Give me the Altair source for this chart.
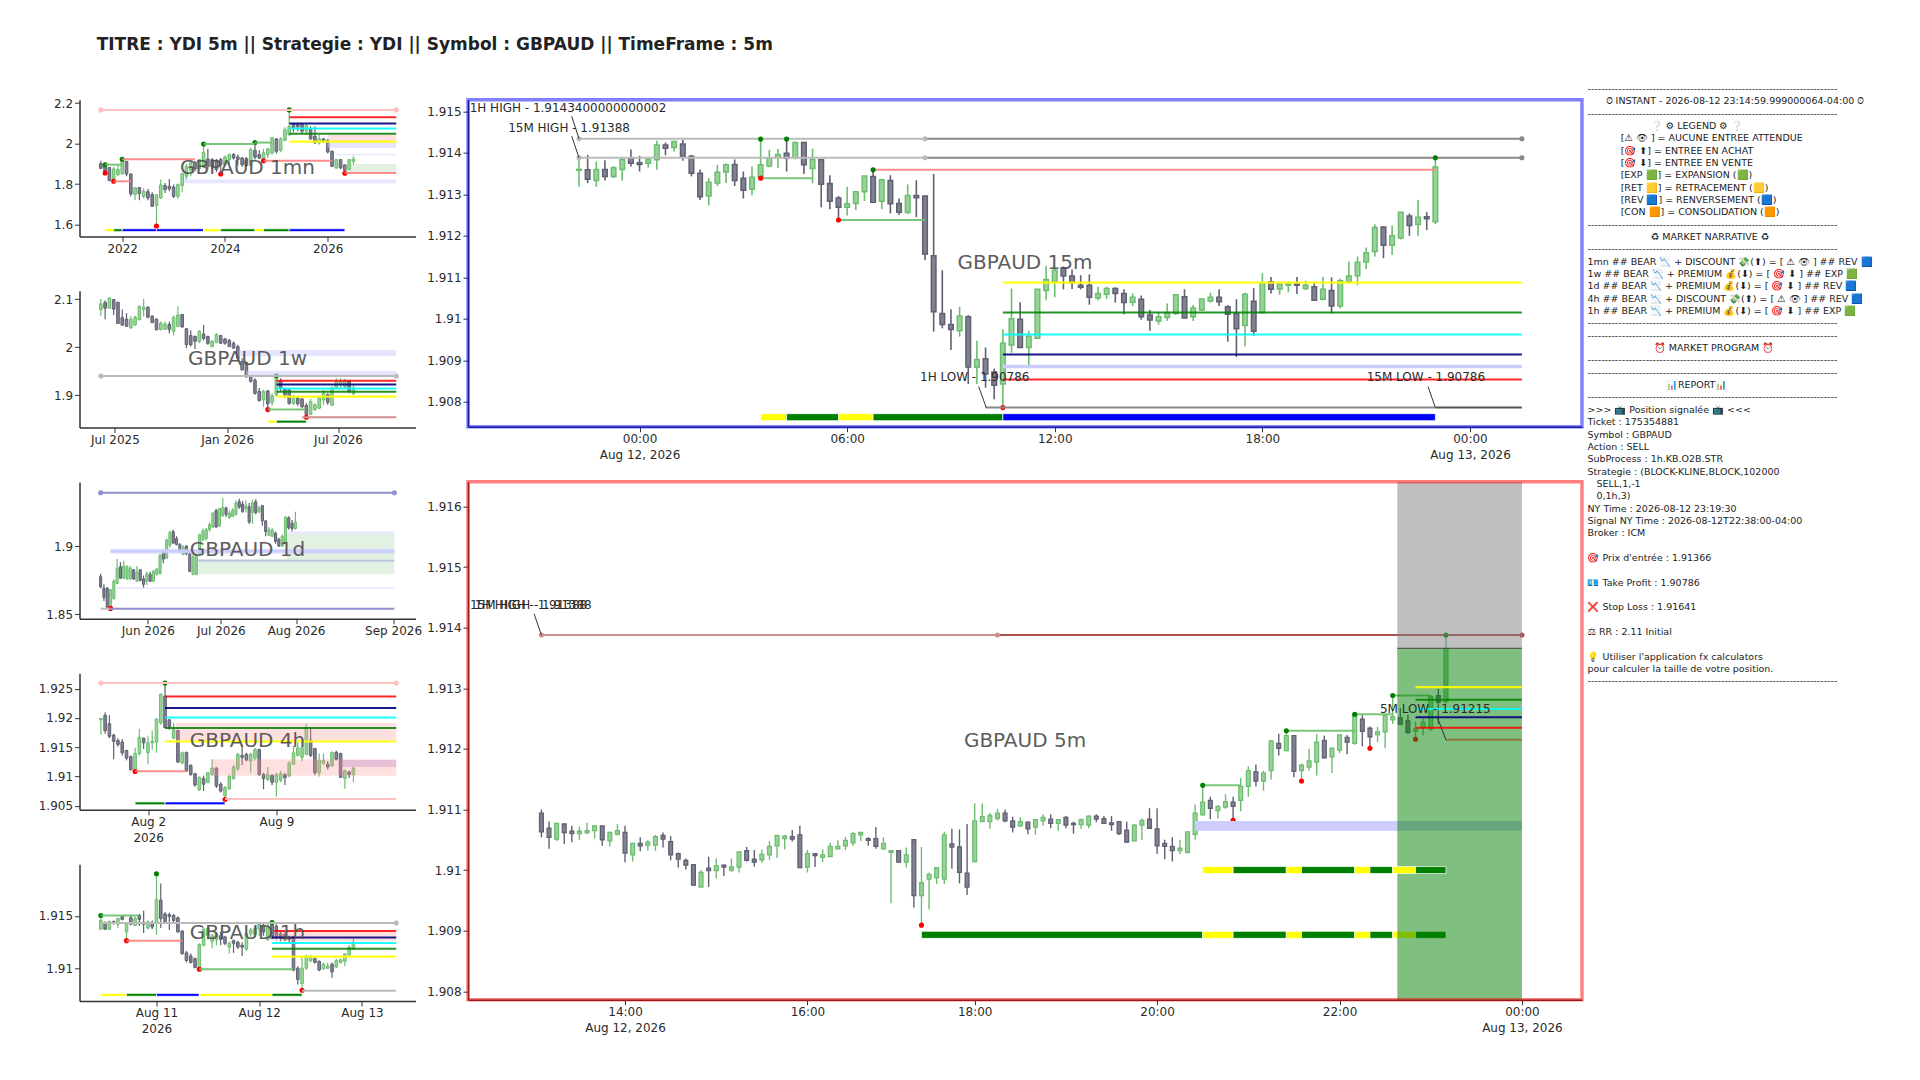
import altair as alt
import pandas as pd

# ---------- candles: (high, body top, body bottom, low) ; G = up, D = down ----------
M1_DIR = "DDDGGGDDGD" "GDDGGDDDGG" "GGDGGDDDDG" "GDDDDGDDGG" "GDGGGDDDGD" "DGDDDGDDGG"
M1 = [(1.916,1.901,1.878,1.875),(1.908,1.896,1.864,1.855),(1.885,1.882,1.818,1.814),(1.885,1.875,1.823,1.814),(1.892,1.872,1.847,1.839),
(1.923,1.913,1.852,1.847),(1.916,1.911,1.850,1.839),(1.852,1.850,1.752,1.740),(1.786,1.783,1.749,1.721),(1.786,1.783,1.754,1.721),
(1.780,1.765,1.740,1.729),(1.777,1.763,1.732,1.721),(1.760,1.749,1.691,1.688),(1.749,1.747,1.694,1.593),(1.823,1.796,1.732,1.727),
(1.806,1.793,1.773,1.757),(1.826,1.790,1.777,1.765),(1.798,1.786,1.740,1.732),(1.803,1.798,1.740,1.727),(1.855,1.852,1.793,1.760),
(1.901,1.888,1.839,1.823),(1.908,1.905,1.869,1.839),(1.913,1.908,1.875,1.864),(1.921,1.921,1.875,1.869),(1.995,1.957,1.885,1.878),
(1.974,1.924,1.888,1.875),(1.929,1.921,1.885,1.872),(1.924,1.918,1.872,1.860),(1.929,1.921,1.896,1.850),(1.941,1.934,1.896,1.885),
(1.951,1.946,1.921,1.896),(1.954,1.946,1.929,1.921),(1.946,1.934,1.921,1.892),(1.934,1.929,1.896,1.885),(1.934,1.926,1.892,1.885),
(1.979,1.970,1.892,1.888),(2.003,1.967,1.934,1.921),(1.967,1.946,1.929,1.924),(1.974,1.954,1.924,1.915),(1.979,1.974,1.946,1.929),
(2.033,2.028,1.954,1.946),(2.028,2.023,1.962,1.951),(2.033,2.023,1.967,1.957),(2.081,2.069,2.016,2.012),(2.166,2.085,2.044,2.036),
(2.102,2.099,2.077,2.056),(2.102,2.094,2.082,2.061),(2.102,2.094,2.061,2.049),(2.102,2.089,2.061,2.044),(2.085,2.069,2.023,2.020),
(2.085,2.036,2.003,2.0),(2.044,2.023,2.003,1.995),(2.028,2.023,2.012,2.003),(2.023,2.016,1.959,1.951),(1.966,1.962,1.888,1.885),
(1.924,1.921,1.880,1.875),(1.924,1.921,1.880,1.875),(1.896,1.895,1.869,1.854),(1.924,1.921,1.872,1.869),(1.938,1.924,1.913,1.896)]

W1_DIR = "GDGDDDDGGG" "GDDDGGDGGD" "DDDGDDGGDD" "DDDDDDDDGD" "GGDDDGDDDG" "GGGDGGGGDG"
W1 = [(2.100,2.090,2.078,2.065),(2.097,2.093,2.081,2.058),(2.103,2.102,2.081,2.081),(2.100,2.099,2.079,2.067),(2.095,2.093,2.049,2.048),
(2.078,2.061,2.046,2.044),(2.071,2.058,2.043,2.042),(2.064,2.058,2.040,2.038),(2.065,2.062,2.046,2.044),(2.086,2.085,2.057,2.056),
(2.100,2.083,2.078,2.064),(2.085,2.083,2.062,2.060),(2.067,2.064,2.051,2.050),(2.060,2.058,2.036,2.035),(2.053,2.050,2.036,2.035),
(2.053,2.048,2.037,2.036),(2.053,2.047,2.037,2.029),(2.065,2.062,2.033,2.024),(2.085,2.067,2.043,2.042),(2.069,2.068,2.042,2.040),
(2.040,2.038,2.005,1.998),(2.035,2.024,2.005,2.001),(2.024,2.022,2.012,1.996),(2.035,2.033,2.012,2.008),(2.046,2.027,2.018,2.014),
(2.024,2.022,2.008,2.005),(2.015,2.012,2.001,2.000),(2.029,2.026,2.010,2.008),(2.025,2.024,2.008,2.007),(2.019,2.017,2.008,2.005),
(2.017,2.014,2.001,2.000),(2.012,2.008,1.998,1.996),(2.005,2.001,1.977,1.970),(1.977,1.970,1.953,1.951),(1.970,1.968,1.938,1.937),
(1.940,1.938,1.929,1.926),(1.935,1.931,1.904,1.901),(1.915,1.908,1.889,1.887),(1.911,1.908,1.890,1.876),(1.911,1.909,1.882,1.870),
(1.904,1.899,1.885,1.878),(1.940,1.932,1.901,1.897),(1.935,1.929,1.915,1.908),(1.915,1.913,1.901,1.894),(1.915,1.911,1.883,1.880),
(1.901,1.897,1.883,1.880),(1.897,1.894,1.882,1.878),(1.894,1.892,1.876,1.873),(1.883,1.879,1.860,1.854),(1.892,1.887,1.860,1.859),
(1.883,1.880,1.870,1.867),(1.897,1.894,1.873,1.871),(1.911,1.904,1.890,1.880),(1.904,1.901,1.885,1.880),(1.918,1.915,1.879,1.878),
(1.935,1.929,1.915,1.913),(1.935,1.929,1.922,1.915),(1.934,1.930,1.918,1.915),(1.931,1.930,1.908,1.904),(1.922,1.915,1.903,1.900)]

D1_DIR = "DDDGGGDGGG" "DGDDGDGGGD" "GGDDDGDDGG" "GGGGGDGGDG" "GGDDGDGDGD" "DGGDDGGDDG"
D1 = [(1.8799,1.8777,1.8701,1.8692),(1.8720,1.8692,1.8624,1.8596),(1.8701,1.8692,1.8551,1.8545),(1.8686,1.8681,1.8551,1.8542),(1.8757,1.8743,1.8616,1.8607),
(1.8907,1.8839,1.8726,1.8720),(1.8884,1.8850,1.8766,1.8760),(1.8895,1.8856,1.8766,1.8760),(1.8862,1.8850,1.8760,1.8754),(1.8856,1.8839,1.8760,1.8754),
(1.8833,1.8828,1.8760,1.8754),(1.8856,1.8811,1.8743,1.8737),(1.8833,1.8828,1.8749,1.8743),(1.8785,1.8760,1.8720,1.8692),(1.8814,1.8799,1.8743,1.8715),
(1.8814,1.8794,1.8743,1.8737),(1.8828,1.8816,1.8743,1.8737),(1.8842,1.8833,1.8794,1.8785),(1.8946,1.8935,1.8799,1.8794),(1.8975,1.8963,1.8907,1.8876),
(1.9059,1.9048,1.8912,1.8907),(1.9116,1.9105,1.9008,1.8992),(1.9124,1.9110,1.9025,1.9020),(1.9076,1.9059,1.9014,1.9008),(1.9025,1.9014,1.8963,1.8955),
(1.9011,1.8997,1.8941,1.8935),(1.9011,1.9003,1.8946,1.8935),(1.8963,1.8946,1.8816,1.8811),(1.8941,1.8924,1.8794,1.8788),(1.8941,1.8924,1.8794,1.8788),
(1.9096,1.9088,1.8946,1.8935),(1.9133,1.9116,1.9048,1.9040),(1.9138,1.9124,1.9059,1.9042),(1.9178,1.9161,1.9124,1.9110),(1.9257,1.9246,1.9144,1.9138),
(1.9280,1.9266,1.9144,1.9138),(1.9285,1.9280,1.9153,1.9144),(1.9359,1.9288,1.9229,1.9218),(1.9294,1.9285,1.9237,1.9218),(1.9266,1.9246,1.9212,1.9206),
(1.9285,1.9268,1.9223,1.9218),(1.9342,1.9322,1.9237,1.9229),(1.9353,1.9331,1.9291,1.9280),(1.9336,1.9314,1.9257,1.9251),(1.9342,1.9302,1.9280,1.9251),
(1.9322,1.9294,1.9181,1.9167),(1.9347,1.9322,1.9251,1.9167),(1.9350,1.9331,1.9251,1.9237),(1.9302,1.9285,1.9257,1.9246),(1.9308,1.9302,1.9189,1.9153),
(1.9195,1.9189,1.9110,1.9076),(1.9144,1.9124,1.9082,1.9076),(1.9138,1.9121,1.9076,1.9068),(1.9110,1.9099,1.9037,1.9020),(1.9065,1.9054,1.9003,1.8997),
(1.9088,1.9076,1.9003,1.8997),(1.9223,1.9218,1.9025,1.9020),(1.9223,1.9212,1.9138,1.9124),(1.9195,1.9172,1.9133,1.9110),(1.9257,1.9181,1.9133,1.9124)]

H4_DIR = "GDDDDDDDGG" "DGGGGDDGDG" "DDDGDGGDDG" "GGGDDGGDDG" "DGGDGGGGGD" "DGGDGDDGDG"
H4 = [(1.92,1.91993,1.91967,1.91719),(1.92092,1.92046,1.91784,1.91732),(1.92046,1.91902,1.91686,1.91654),(1.91732,1.91706,1.91601,1.91294),(1.91654,1.91614,1.91549,1.91510),
(1.91641,1.91588,1.91405,1.91359),(1.91458,1.91444,1.91314,1.91275),(1.91359,1.91340,1.91118,1.91098),(1.91490,1.91392,1.91098,1.91085),(1.91817,1.91667,1.91392,1.91359),
(1.91667,1.91654,1.91575,1.91471),(1.91686,1.91575,1.91405,1.91209),(1.91784,1.91601,1.91575,1.91458),(1.91993,1.91980,1.91588,1.91405),(1.92418,1.92405,1.91915,1.91882),
(1.92614,1.92373,1.91837,1.91824),(1.91980,1.91967,1.91850,1.91797),(1.91915,1.91797,1.91654,1.91641),(1.91797,1.91784,1.91248,1.91229),(1.91425,1.91405,1.91229,1.91209),
(1.91425,1.91412,1.91098,1.91078),(1.91209,1.91190,1.91033,1.91013),(1.91065,1.91046,1.90856,1.90824),(1.91000,1.90987,1.90771,1.90752),(1.91013,1.90967,1.90869,1.90752),
(1.91078,1.91065,1.90902,1.90882),(1.91294,1.91144,1.91033,1.91013),(1.91157,1.91144,1.90837,1.90804),(1.90902,1.90869,1.90752,1.90725),(1.90837,1.90810,1.90673,1.90608),
(1.91033,1.91000,1.90791,1.90771),(1.91196,1.91163,1.90967,1.90948),(1.91405,1.91379,1.91131,1.91098),(1.91536,1.91359,1.91327,1.91196),(1.91405,1.91379,1.91281,1.91261),
(1.91405,1.91379,1.91261,1.91065),(1.91490,1.91458,1.91314,1.91275),(1.91471,1.91464,1.91033,1.91013),(1.91065,1.91033,1.90967,1.90784),(1.91163,1.91033,1.90948,1.90922),
(1.91033,1.91020,1.90902,1.90856),(1.91065,1.91033,1.90902,1.90660),(1.91098,1.91052,1.90935,1.90902),(1.91065,1.91033,1.90980,1.90856),(1.91261,1.91229,1.91013,1.90987),
(1.91523,1.91405,1.91209,1.91196),(1.91588,1.91490,1.91359,1.91340),(1.91654,1.91490,1.91327,1.91261),(1.91902,1.91837,1.91379,1.91359),(1.91837,1.91621,1.91359,1.91327),
(1.91490,1.91477,1.91065,1.91020),(1.91392,1.91275,1.91065,1.91000),(1.91392,1.91275,1.91229,1.91196),(1.91261,1.91209,1.91163,1.91118),(1.91425,1.91412,1.91183,1.91163),
(1.91438,1.91412,1.91294,1.91275),(1.91405,1.91392,1.90987,1.90974),(1.91118,1.91098,1.90967,1.90791),(1.91098,1.91078,1.91033,1.90974),(1.91163,1.91144,1.91033,1.90902)]

H1_DIR = "GDGDGDGDGD" "DGDGDDDDDD" "DDDGGGGGDD" "GDDDGGGGDG" "DDDDDDDGGG" "DDGGDGGGGG"
H1 = [(1.91504,1.91456,1.91372,1.91372),(1.91445,1.91438,1.91372,1.91365),(1.91456,1.91445,1.91372,1.91365),(1.91456,1.91445,1.91431,1.91416),(1.91482,1.91475,1.9142,1.91383),
(1.91504,1.91493,1.91467,1.91456),(1.91438,1.9142,1.91347,1.91263),(1.91511,1.91482,1.9142,1.91409),(1.91493,1.91475,1.91409,1.91402),(1.91518,1.91504,1.91467,1.91402),
(1.91548,1.91438,1.9142,1.91336),(1.91456,1.91445,1.91383,1.91372),(1.91456,1.91438,1.91394,1.91372),(1.91902,1.91657,1.91431,1.91318),(1.9181,1.9165,1.91475,1.91383),
(1.91537,1.91518,1.91445,1.91438),(1.91529,1.91511,1.91493,1.91365),(1.91518,1.91504,1.91456,1.91431),(1.91493,1.91482,1.91347,1.91336),(1.91365,1.91354,1.91139,1.91128),
(1.91164,1.91146,1.91073,1.91055),(1.91139,1.91117,1.91055,1.91044),(1.91102,1.91091,1.91007,1.91),(1.91237,1.91226,1.90993,1.90989),(1.91383,1.91372,1.91219,1.91208),
(1.91402,1.91383,1.9131,1.91274),(1.91329,1.9131,1.91256,1.9119),(1.91347,1.91329,1.91274,1.91219),(1.91347,1.9131,1.91274,1.91219),(1.9131,1.91299,1.91237,1.91219),
(1.91256,1.91237,1.91201,1.91139),(1.91274,1.91263,1.91237,1.91146),(1.91263,1.91248,1.91201,1.91183),(1.91248,1.91219,1.91201,1.91117),(1.91347,1.91329,1.91183,1.91164),
(1.91383,1.91365,1.91329,1.91299),(1.91402,1.91383,1.91321,1.91292),(1.91431,1.9142,1.91372,1.9131),(1.91431,1.91409,1.91347,1.9131),(1.9142,1.91402,1.91274,1.91263),
(1.91438,1.9142,1.91285,1.91274),(1.9142,1.91402,1.91299,1.91274),(1.91347,1.91329,1.91285,1.91256),(1.91347,1.91321,1.91274,1.91256),(1.9131,1.91292,1.91274,1.91237),
(1.9131,1.91299,1.90982,1.90971),(1.91018,1.91,1.90891,1.90843),(1.91117,1.91,1.90854,1.90788),(1.91128,1.91117,1.91,1.90982),(1.91128,1.9111,1.91073,1.91055),
(1.91102,1.91091,1.91055,1.91044),(1.91073,1.91066,1.90982,1.90971),(1.91055,1.91037,1.90993,1.90985),(1.91055,1.91018,1.91,1.90989),(1.91055,1.91037,1.90964,1.90909),
(1.91091,1.91073,1.91011,1.91),(1.91091,1.9108,1.91055,1.91044),(1.91146,1.91135,1.91066,1.91018),(1.91219,1.91201,1.91128,1.9111),(1.91285,1.91248,1.91183,1.91175)]

M15_DIR = "GDGDGGDDGG" "DGDDDGGGDD" "GGGGDGDGDD" "DGGGDGDDGD" "DDDDGDGDDG" "GDGGGGDDDD" "GGDDGDDGGG" "DGGGDDDGDG" "DGGDGDGDGG" "GGGDGGDGDG"
M15 = [(1.91387,1.9136,1.91358,1.91318),(1.91395,1.91359,1.91336,1.91327),(1.91379,1.9136,1.91333,1.91318),(1.91382,1.9136,1.91343,1.91333),(1.91368,1.91364,1.91343,1.91339),
(1.91387,1.91384,1.9136,1.91333),(1.91408,1.91387,1.91375,1.91367),(1.91393,1.91376,1.91372,1.91355),(1.91387,1.91384,1.91375,1.91364),(1.91429,1.91419,1.91383,1.91359),
(1.91425,1.91419,1.91411,1.91394),(1.91429,1.91427,1.91413,1.91403),(1.91431,1.91421,1.91391,1.91381),(1.91395,1.91392,1.91351,1.91343),(1.9136,1.91351,1.91294,1.91286),
(1.91339,1.91329,1.91296,1.91273),(1.91371,1.91353,1.91327,1.9132),(1.91375,1.91371,1.91354,1.91327),(1.91384,1.91372,1.91333,1.9132),(1.91355,1.91339,1.9131,1.9129),
(1.91367,1.91341,1.91312,1.91298),(1.91433,1.91371,1.91341,1.91335),(1.91407,1.91388,1.91368,1.91365),(1.91409,1.91396,1.91389,1.91364),(1.91433,1.91399,1.91387,1.91355),
(1.91427,1.91425,1.91388,1.91384),(1.91425,1.91425,1.91371,1.91349),(1.9141,1.91384,1.91362,1.91327),(1.91384,1.91383,1.91324,1.91269),(1.91346,1.91326,1.91283,1.91264),
(1.91296,1.91291,1.91269,1.91238),(1.91318,1.91277,1.91269,1.91249),(1.91306,1.91306,1.91278,1.91262),(1.91344,1.91344,1.91306,1.91284),(1.91359,1.91343,1.91281,1.9128),
(1.91337,1.91335,1.91283,1.91264),(1.91346,1.91333,1.91277,1.91254),(1.9129,1.91278,1.91257,1.9125),(1.91324,1.91297,1.91256,1.91253),(1.91334,1.91297,1.91292,1.91245),
(1.91296,1.91296,1.91156,1.91142),(1.91349,1.91152,1.91017,1.90969),(1.91117,1.91013,1.90986,1.90977),(1.91023,1.90986,1.90974,1.90925),(1.91029,1.91007,1.90971,1.90957),
(1.91009,1.91005,1.90884,1.90843),(1.90947,1.90902,1.90883,1.90843),(1.90931,1.90904,1.90867,1.90834),(1.9088,1.90872,1.9084,1.90806),(1.90975,1.90941,1.90843,1.90784),
(1.91073,1.91,1.90937,1.90918),(1.9104,1.90999,1.90931,1.9093),(1.90971,1.90958,1.90931,1.90888),(1.91071,1.91071,1.90953,1.90951),(1.91128,1.91095,1.91068,1.91045),
(1.91122,1.91117,1.9109,1.91052),(1.91126,1.91123,1.91103,1.91071),(1.91119,1.91103,1.91087,1.91072),(1.91105,1.91081,1.91076,1.91071),(1.91107,1.91081,1.91052,1.91034),
(1.91077,1.91061,1.9105,1.91044),(1.91077,1.91073,1.91059,1.91048),(1.91076,1.91073,1.91061,1.91039),(1.91071,1.91061,1.91039,1.91011),(1.91061,1.91052,1.9104,1.91031),
(1.91056,1.91047,1.91005,1.90998),(1.91021,1.91009,1.90997,1.90971),(1.91017,1.91005,1.90995,1.90986),(1.91037,1.91015,1.91003,1.90995),(1.91059,1.91058,1.91013,1.91009),
(1.91071,1.91053,1.91002,1.91001),(1.91033,1.91026,1.91005,1.90995),(1.91049,1.91048,1.91021,1.91019),(1.91063,1.91052,1.91043,1.91039),(1.91071,1.91052,1.91041,1.91031),
(1.91033,1.91029,1.91011,1.90945),(1.91047,1.91013,1.90976,1.90908),(1.91063,1.91059,1.90984,1.90934),(1.91074,1.91042,1.9097,1.90959),(1.9111,1.91085,1.91015,1.91013),
(1.91101,1.91089,1.91071,1.91061),(1.91085,1.91084,1.91072,1.91058),(1.9109,1.91084,1.91081,1.91064),(1.91101,1.91084,1.91081,1.9106),(1.91092,1.91081,1.91073,1.91069),
(1.91089,1.91077,1.91045,1.91044),(1.91101,1.91071,1.91047,1.91045),(1.911,1.91068,1.91031,1.91013),(1.91097,1.91092,1.91031,1.91025),(1.91138,1.91103,1.91089,1.91085),
(1.9115,1.91136,1.91104,1.91081),(1.91172,1.91159,1.91137,1.9112),(1.91228,1.9122,1.91162,1.9115),(1.91222,1.91221,1.91177,1.91146),(1.91224,1.912,1.91177,1.91154),
(1.91257,1.91257,1.91195,1.91191),(1.91254,1.91248,1.91225,1.912),(1.91287,1.91245,1.91227,1.912),(1.91257,1.91246,1.91241,1.91214),(1.91387,1.91366,1.91234,1.91228)]

M5_DIR = "DDGDDGGGDGG" "DGDGGDDDDDG" "DGDGGDDGGGG" "DDGDGGGGGGD" "DGGDGDGGGGD" "DDGGGGDDGDG" "GDGDDGGDDDD" "DGGDDDDGGGG" "DGGDGGDGGDG" "DGGGDGGDGDD" "GGGDDGGGDG"
M5 = [(1.9110,1.91094,1.91063,1.91054),(1.9108,1.91069,1.91054,1.91035),(1.91077,1.91077,1.91051,1.91048),(1.91077,1.91076,1.91062,1.91043),(1.91073,1.91064,1.9106,1.91046),
(1.91072,1.91064,1.9106,1.9105),(1.91078,1.91065,1.91062,1.91059),(1.91074,1.91073,1.91065,1.91052),(1.91073,1.91073,1.9105,1.9104),(1.91063,1.91062,1.91048,1.91039),
(1.91076,1.91065,1.91059,1.91057),(1.91073,1.91062,1.91028,1.91013),(1.91045,1.91044,1.91025,1.91014),(1.91054,1.91044,1.9104,1.91031),(1.91049,1.91046,1.91041,1.91032),
(1.91058,1.91055,1.91041,1.91032),(1.91062,1.91057,1.91051,1.91037),(1.91056,1.91047,1.91025,1.91016),(1.91029,1.91027,1.91018,1.91004),(1.91019,1.91016,1.91008,1.91001),
(1.91009,1.91009,1.90975,1.90974),(1.91,1.90996,1.90972,1.90972),(1.91022,1.91003,1.90999,1.90972),(1.91019,1.91007,1.90999,1.90986),(1.91009,1.91008,1.91005,1.9099),
(1.91019,1.91005,1.91,1.90997),(1.91031,1.9103,1.91005,1.90996),(1.91038,1.91032,1.91016,1.91014),(1.91033,1.91018,1.91013,1.91006),(1.91034,1.91026,1.91017,1.91012),
(1.91048,1.91039,1.91025,1.91017),(1.91058,1.91057,1.9104,1.9102),(1.91058,1.91056,1.91052,1.91034),(1.91066,1.91055,1.91051,1.91047),(1.91073,1.91058,1.91004,1.91003),
(1.91033,1.91027,1.91005,1.90996),(1.91028,1.91027,1.91024,1.91005),(1.91034,1.91025,1.91021,1.91013),(1.91045,1.91039,1.91022,1.91022),(1.91049,1.91039,1.91035,1.91035),
(1.91055,1.91049,1.9104,1.91033),(1.91063,1.9106,1.91045,1.9104),(1.91063,1.91062,1.91058,1.91048),(1.91054,1.91052,1.91049,1.9104),(1.91071,1.91052,1.91039,1.91035),
(1.91054,1.91044,1.91035,1.91033),(1.91033,1.91032,1.91029,1.90945),(1.91033,1.91032,1.91013,1.91012),(1.91037,1.91025,1.91013,1.91004),(1.9105,1.9105,1.90958,1.90938),
(1.91038,1.90979,1.90958,1.90909),(1.90996,1.90993,1.90985,1.90935),(1.91005,1.91004,1.90987,1.90977),(1.91063,1.91058,1.90985,1.90977),(1.91068,1.91043,1.91038,1.91002),
(1.91067,1.91038,1.90996,1.90978),(1.91076,1.90995,1.90972,1.90959),(1.9111,1.91081,1.91014,1.91013),(1.9111,1.91088,1.9108,1.9108),(1.91094,1.9109,1.9108,1.91068),
(1.91101,1.91094,1.91085,1.91082),(1.911,1.91094,1.91081,1.91079),(1.91088,1.91081,1.91071,1.91062),(1.91087,1.9108,1.91073,1.91071),(1.9108,1.91079,1.91068,1.91059),
(1.91084,1.91083,1.91071,1.91058),(1.91092,1.91087,1.91081,1.91073),(1.91092,1.91084,1.91077,1.91069),(1.91084,1.91083,1.91077,1.91065),(1.91089,1.91087,1.91074,1.91069),
(1.9108,1.91077,1.91075,1.9106),(1.91085,1.91083,1.91075,1.91068),(1.9109,1.91089,1.91074,1.91069),(1.91092,1.91089,1.91084,1.91079),(1.91089,1.91085,1.91077,1.91076),
(1.91089,1.91078,1.91075,1.91065),(1.91081,1.9108,1.9106,1.91058),(1.9108,1.91066,1.91046,1.91045),(1.91076,1.91074,1.91048,1.91047),(1.91085,1.91082,1.91074,1.9105),
(1.91102,1.91084,1.91069,1.91068),(1.91102,1.91068,1.9104,1.91027),(1.9105,1.91044,1.91039,1.91018),(1.91054,1.91039,1.91032,1.91014),(1.9105,1.91036,1.91032,1.91026),
(1.91064,1.91063,1.91029,1.91027),(1.91108,1.91094,1.91059,1.9105),(1.9114,1.91112,1.91091,1.9109),(1.91121,1.91115,1.91102,1.91084),(1.91107,1.91105,1.91098,1.91085),
(1.91125,1.91113,1.91104,1.91101),(1.91121,1.91112,1.91105,1.91082),(1.91152,1.91138,1.91115,1.91097),(1.91171,1.91164,1.91138,1.91121),(1.91174,1.91162,1.91147,1.91138),
(1.91164,1.9116,1.91147,1.91131),(1.91214,1.91213,1.91164,1.91149),(1.91225,1.91209,1.91201,1.91189),(1.9123,1.91222,1.91197,1.91196),(1.91222,1.91222,1.91163,1.91153),
(1.91176,1.91173,1.91164,1.91147),(1.912,1.9118,1.9117,1.91164),(1.91224,1.91211,1.91178,1.91156),(1.91222,1.91214,1.91185,1.91184),(1.91201,1.91201,1.91187,1.9116),
(1.91223,1.91223,1.91198,1.91193),(1.91223,1.91219,1.91211,1.91191),(1.91257,1.91256,1.91209,1.91207),(1.91256,1.91249,1.91229,1.91204),(1.91237,1.91234,1.9122,1.91201),
(1.91236,1.91228,1.91223,1.91211),(1.91256,1.91255,1.91228,1.91201),(1.91288,1.91253,1.91248,1.91241),(1.91267,1.91251,1.91241,1.91239),(1.91256,1.91246,1.91227,1.91225),
(1.91245,1.91233,1.91229,1.91216),(1.9125,1.91244,1.91235,1.91222),(1.91289,1.91286,1.91233,1.91229),(1.91299,1.91288,1.91277,1.91241),(1.91388,1.91366,1.91278,1.91275)]

# ---------- overlays: levels (start, end, price, kind) ----------
M1_LEVELS = [(0,69,2.166,"pink"),(44,69,2.130,"red"),(44,69,2.099,"navy"),(44,69,2.074,"cyan"),(44,69,2.048,"green"),(44,69,2.010,"yellow"),
             (5,22,1.923,"palered"),(38,54,1.915,"palered"),(3,7,1.814,"palered"),(57,69,1.855,"palered"),
             (1,5,1.896,"palegreen"),(24,36,1.998,"palegreen"),(36,40,2.005,"palegreen")]
M1_RECTS = [(53,69,2.044,2.003,"bandpink"),(53,69,2.003,1.979,"bandlav"),(55,69,1.949,1.943,"bandlav"),(19.4,69,1.823,1.804,"bandlav"),(57,69,1.900,1.855,"bandgreen")]
M1_DOTS = [(0,2.166,"pink"),(69,2.166,"pink"),(1,1.896,"g"),(5,1.923,"g"),(24,1.998,"g"),(36,2.005,"g"),(44,2.166,"g"),
           (1,1.855,"r"),(3,1.814,"r"),(13,1.593,"r"),(28,1.850,"r"),(38,1.915,"r"),(57,1.854,"r")]
M1_STATUS = [(1,3,"yellow"),(3,5,"green"),(5,13,"blue"),(13,24,"blue"),(24,28,"yellow"),(28,36,"green"),(36,38,"yellow"),(38,44,"green"),(44,57,"blue")]

W1_LEVELS = [(0,69,1.940,"grey"),(41,69,1.930,"red"),(41,69,1.922,"navy"),(41,69,1.914,"cyan"),(41,69,1.907,"green"),(41,69,1.897,"yellow"),
             (47,69,1.854,"rosy"),(39,48,1.870,"palegreen")]
W1_RECTS = [(32.3,69,1.994,1.981,"bandlav"),(34,69,1.951,1.940,"bandlav")]
W1_DOTS = [(0,1.940,"grey"),(69,1.940,"grey"),(41,1.940,"g"),(39,1.870,"r"),(48,1.854,"r")]
W1_STATUS = [(39,41,"yellow"),(41,48,"green")]

D1_LEVELS = [(0,89,1.9398,"bluegrey"),(0,3,1.8540,"grey"),(3,89,1.8540,"bluegrey"),(3,89,1.8965,"lav"),(29.6,89,1.8895,"steel"),(5,89,1.8692,"palelav")]
D1_RECTS = [(29.6,89,1.8907,1.8794,"bandgreen"),(56.3,89,1.9096,1.8907,"bandgreen"),(56.3,89,1.9110,1.9096,"bandlav"),(3,89,1.8983,1.8946,"bandlav")]
D1_DOTS = [(0,1.9398,"bluegrey"),(89,1.9398,"bluegrey"),(3,1.8542,"r")]

H4_LEVELS = [(0,69,1.92595,"pink"),(15,69,1.92366,"red"),(15,69,1.92170,"navy"),(15,69,1.92007,"cyan"),(15,69,1.9183,"green"),(15,69,1.91601,"yellow"),
             (8,20,1.91092,"palered"),(29,69,1.90614,"pink")]
H4_RECTS = [(17.5,69,1.91915,1.91621,"bandpink"),(26,69,1.91294,1.91013,"bandpink"),(56.4,69,1.91281,1.91163,"bandpurple")]
H4_DOTS = [(0,1.92595,"pink"),(69,1.92595,"pink"),(15,1.92595,"g"),(8,1.91085,"r"),(29,1.90608,"r")]
H4_STATUS = [(8,15,"green"),(15,29,"blue")]

H1_LEVELS = [(0,69,1.91431,"grey"),(40.5,69,1.91354,"red"),(40,69,1.91292,"navy"),(40,69,1.91241,"cyan"),(40,69,1.91186,"green"),(40,69,1.9111,"yellow"),
             (47,69,1.90785,"grey"),(0,9,1.91504,"palegreen"),(23,45,1.90989,"palegreen"),(6,19,1.91263,"palered")]
H1_RECTS = [(40.5,69,1.91354,1.91256,"bandpink")]
H1_DOTS = [(69,1.91431,"grey"),(0,1.91504,"g"),(13,1.91902,"g"),(40,1.91435,"g"),(6,1.91263,"r"),(23,1.90989,"r"),(47,1.90788,"r")]
H1_STATUS = [(0,6,"yellow"),(6,13,"green"),(13,23,"blue"),(23,40,"yellow"),(40,47,"green")]

M15_UNDER = [(0,40,1.91434,"grey"),(40,109,1.91434,"dgrey"),(0,40,1.91388,"grey"),(40,109,1.91388,"dgrey"),
             (34,99,1.91359,"palered"),(21,27,1.91339,"palegreen"),(30,40,1.91238,"palegreen")]
M15_LEVELS = [(49,109,1.91087,"yellow"),(49,109,1.91015,"green"),(49,109,1.90962,"cyan"),(49,109,1.90914,"navy"),(49,109,1.90885,"lavthick"),(49,109,1.90854,"red"),
              (47,99,1.90786,"dgrey"),(99,109,1.90786,"dark")]
M15_DOTS = [(0,1.91434,"grey"),(40,1.91434,"grey"),(109,1.91434,"dgrey"),(0,1.91388,"grey"),(40,1.91388,"grey"),(109,1.91388,"dgrey"),
            (21,1.91433,"g"),(24,1.91433,"g"),(34,1.91359,"g"),(99,1.91388,"g"),(21,1.91339,"r"),(30,1.91238,"r"),(49,1.90786,"r")]
M15_STATUS = [(21,24,"yellow"),(24,30,"green"),(30,34,"yellow"),(34,49,"green"),(49,99,"blue")]
M15_NOTES = [("1H HIGH - 1.9143400000000002",-1.27,1.91507),("15M HIGH - 1.91388",-1.15,1.91461),("1H LOW - 1.90786",45.75,1.90859),("15M LOW - 1.90786",97.9,1.90859)]
M15_LEADERS = [(-0.84,1.91488,0,1.91434),(-0.84,1.91440,0,1.91388),(46.2,1.90837,47.08,1.90786),(98.15,1.90837,99,1.90786)]

M5_UNDER = [(0,60,1.91388,"rosy"),(60,129,1.91388,"brick"),(87,92,1.9114,"palegreen"),(98,107,1.9123,"palegreen"),(107,112,1.91257,"palegreen"),(112,117,1.91288,"palegreen")]
M5_LEVELS = [(115,129,1.91302,"yellow"),(115,129,1.91281,"green"),(115,129,1.91266,"cyan"),(115,129,1.91252,"navy"),(115,129,1.91235,"red"),(119,129,1.91215,"olive"),(112.6,129,1.91366,"entry")]
M5_RECTS = [(86,129,1.91081,1.91065,"lavsolid"),(112.6,129,1.91641,1.91366,"sl"),(112.6,129,1.91366,1.90786,"tp")]
M5_DOTS = [(0,1.91388,"rosy"),(60,1.91388,"rosy"),(129,1.91388,"brick"),(87,1.9114,"g"),(98,1.9123,"g"),(107,1.91257,"g"),(112,1.91288,"g"),(119,1.91388,"g"),
           (91,1.91082,"r"),(100,1.91147,"r"),(109,1.91201,"r"),(115,1.91216,"r"),(50,1.90909,"r")]
M5_STATUS_LOW = [(50,87,"green"),(87,91,"yellow"),(91,98,"green"),(98,100,"yellow"),(100,107,"green"),(107,109,"yellow"),(109,112,"green"),(112,115,"yellow"),(115,119,"green")]
M5_STATUS_HIGH = [(87,91,"yellow"),(91,98,"green"),(98,100,"yellow"),(100,107,"green"),(107,109,"yellow"),(109,112,"green"),(112,115,"yellow"),(115,119,"green")]
M5_NOTES = [("15M HIGH - 1.91388",-1.4,1.91437),("1H HIGH - 1.91388",-1.4,1.91437),("5M LOW - 1.91215",117.6,1.91265)]
M5_LEADERS = [(-0.97,1.91423,0,1.91388),(117.9,1.91251,119,1.91215)]

# ---------- report text ----------
DASH = "-" * 73
ZW = "\u200b"
def IND(n): return ZW + "\u00a0" * n
REPORT = [
 DASH, IND(6) + "⏱ INSTANT - 2026-08-12 23:14:59.999000064-04:00 ⏱", DASH, IND(21) + "❔ ⚙ LEGEND ⚙ ❔",
 IND(11) + "[⚠ 👁 ] = AUCUNE ENTREE ATTENDUE", IND(11) + "[🎯 ⬆] = ENTREE EN ACHAT", IND(11) + "[🎯 ⬇] = ENTREE EN VENTE",
 IND(11) + "[EXP 🟩] = EXPANSION (🟩)", IND(11) + "[RET 🟨] = RETRACEMENT (🟨)", IND(11) + "[REV 🟦] = RENVERSEMENT (🟦)", IND(11) + "[CON 🟧] = CONSOLIDATION (🟧)",
 DASH, IND(21) + "♻ MARKET NARRATIVE ♻", DASH,
 "1mn ## BEAR 📉 + DISCOUNT 💸(⬆) = [ ⚠ 👁 ] ## REV 🟦", "1w ## BEAR 📉 + PREMIUM 💰(⬇) = [ 🎯 ⬇ ] ## EXP 🟩",
 "1d ## BEAR 📉 + PREMIUM 💰(⬇) = [ 🎯 ⬇ ] ## REV 🟦", "4h ## BEAR 📉 + DISCOUNT 💸(⬆) = [ ⚠ 👁 ] ## REV 🟦",
 "1h ## BEAR 📉 + PREMIUM 💰(⬇) = [ 🎯 ⬇ ] ## EXP 🟩",
 DASH, DASH, IND(22) + "⏰ MARKET PROGRAM ⏰", DASH, DASH, IND(26) + "📊REPORT📊", DASH,
 ">>> 📺 Position signalée 📺 <<<", "Ticket : 175354881", "Symbol : GBPAUD", "Action : SELL", "SubProcess : 1h.KB.O2B.STR",
 "Strategie : (BLOCK-KLINE,BLOCK,102000", IND(3) + "SELL,1,-1", IND(3) + "0,1h,3)", "NY Time : 2026-08-12 23:19:30",
 "Signal NY Time : 2026-08-12T22:38:00-04:00", "Broker : ICM", "", "🎯 Prix d'entrée : 1.91366", "", "💶 Take Profit : 1.90786", "",
 "❌ Stop Loss : 1.91641", "", "⚖ RR : 2.11 Initial", "", "💡 Utiliser  l'application fx calculators",
 "pour calculer la taille de votre position.", DASH]

TITLE = "TITRE : YDI 5m || Strategie : YDI || Symbol : GBPAUD || TimeFrame : 5m"

# ---------- styles ----------
LINE = {"red":("#ff0000",2,.85),"navy":("#000080",2,.9),"cyan":("#00ffff",2,.9),"green":("#008000",2,.85),"yellow":("#ffff00",2.2,.9),
        "palered":("#ff8080",2,.9),"palegreen":("#6abf6a",2,.9),"pink":("#ffc0c0",2,1),"grey":("#bbbbbb",2,1),"dgrey":("#888888",2,1),
        "dark":("#555555",2,1),"entry":("#444444",1,1),"rosy":("#d09090",2,1),"brick":("#b05050",2,1),"olive":("#8a7a40",2,1),"lav":("#ccccff",3,.9),"lavthick":("#ccccff",3.4,1),
        "palelav":("#e8e8ff",1.5,1),"bluegrey":("#9090d0",2,1),"steel":("#b8c4dc",2,1),"g":("#008000",2,1),"r":("#ff0000",2,1)}
RECT = {"bandpink":("#ff9090",.28),"bandlav":("#ccccff",.5),"bandgreen":("#9ccb9c",.28),"bandpurple":("#a070c0",.28),"lavsolid":("#ccccff",1),"sl":("#808080",.5),"tp":("#008000",.5)}
STATUS = {"yellow":"#ffff00","green":"#008000","blue":"#0000ff"}
UP_FILL, UP_LINE = "#98d49a", "#6cbd6f"
DN_FILL, DN_LINE = "#808292", "#5f6070"
FONT = "DejaVu Sans"

def tick_expr(labels):
    expr = "''"
    for v, t in reversed(labels):
        lit = "[" + ",".join(f"'{s}'" for s in t.split("\n")) + "]"
        expr = f"datum.value=={v}?{lit}:{expr}"
    return expr

def panel(rows, dirs, w, h, xdom, ydom, xticks, yticks, name, body, stroke, wick,
          levels=(), under=(), rects=(), dots=(), status=None, status_y=None, status2=None, status2_y=None,
          bar=2.8, notes=(), leaders=(), frame=None):
    candle = pd.DataFrame(rows, columns=["high", "top", "bot", "low"])
    candle["i"] = range(len(rows))
    candle["fill"] = [UP_FILL if d == "G" else DN_FILL for d in dirs]
    candle["line"] = [UP_LINE if d == "G" else DN_LINE for d in dirs]
    xs = alt.Scale(domain=xdom, nice=False, zero=False, padding=0)
    ys = alt.Scale(domain=ydom, nice=False, zero=False, padding=0)
    x_axis = alt.Axis(values=[v for v, _ in xticks], labelExpr=tick_expr(xticks), title=None, grid=False, labelOverlap=False, labelFlush=False)
    y_axis = alt.Axis(values=yticks, format="~g", title=None, grid=False, labelOverlap=False, labelFlush=False)

    def X(f): return alt.X(f, type="quantitative", scale=xs, axis=x_axis)
    def Y(f): return alt.Y(f, type="quantitative", scale=ys, axis=y_axis)

    layers = [
        alt.Chart(candle).mark_rule(strokeWidth=wick).encode(
            x=X("i"), y=Y("low"), y2="high:Q", color=alt.Color("line:N", scale=None)),
        alt.Chart(candle).mark_bar(size=body, strokeWidth=stroke, orient="vertical").encode(
            x=X("i"), y=Y("bot"), y2="top:Q", fill=alt.Fill("fill:N", scale=None), stroke=alt.Stroke("line:N", scale=None)),
    ]

    def level_layer(items):
        d = pd.DataFrame(items, columns=["a", "b", "p", "kind"])
        d["c"] = [LINE[k][0] for k in d.kind]
        d["sw"] = [LINE[k][1] for k in d.kind]
        d["op"] = [LINE[k][2] for k in d.kind]
        return alt.Chart(d).mark_rule().encode(x=X("a"), x2="b:Q", y=Y("p"), color=alt.Color("c:N", scale=None),
                                               strokeWidth=alt.StrokeWidth("sw:Q", scale=None), opacity=alt.Opacity("op:Q", scale=None))

    def status_layer(items, price):
        d = pd.DataFrame(items, columns=["a", "b", "kind"])
        d["p"] = price
        d["c"] = [STATUS[k] for k in d.kind]
        return alt.Chart(d).mark_bar(size=bar, orient="horizontal", stroke="white", strokeWidth=.7).encode(
            x=X("a"), x2="b:Q", y=Y("p"), fill=alt.Fill("c:N", scale=None))

    if under:
        layers.append(level_layer(list(under)))
    if dots:
        d = pd.DataFrame(dots, columns=["i", "p", "kind"])
        d["c"] = [LINE[k][0] for k in d.kind]
        layers.append(alt.Chart(d).mark_circle(size=26, opacity=1).encode(x=X("i"), y=Y("p"), color=alt.Color("c:N", scale=None)))
    if status2:
        layers.append(status_layer(status2, status2_y))
    if rects:
        d = pd.DataFrame(rects, columns=["a", "b", "hi", "lo", "kind"])
        d["c"] = [RECT[k][0] for k in d.kind]
        d["op"] = [RECT[k][1] for k in d.kind]
        d["order"] = range(len(d))
        for _, row in d.iterrows():
            layers.append(alt.Chart(d[d.order == row.order]).mark_rect().encode(
                x=X("a"), x2="b:Q", y=Y("hi"), y2="lo:Q", color=alt.Color("c:N", scale=None), opacity=alt.Opacity("op:Q", scale=None)))
    if levels:
        layers.append(level_layer(list(levels)))
    if status:
        layers.append(status_layer(status, status_y))
    if leaders:
        d = pd.DataFrame(leaders, columns=["a", "p", "b", "q"])
        layers.append(alt.Chart(d).mark_rule(color="#333333", strokeWidth=1).encode(x=X("a"), x2="b:Q", y=Y("p"), y2="q:Q"))
    if notes:
        d = pd.DataFrame(notes, columns=["t", "i", "p"])
        layers.append(alt.Chart(d).mark_text(fontSize=12, color="#2a2a2a", font=FONT).encode(x=X("i"), y=Y("p"), text="t:N"))
    layers.append(alt.Chart(pd.DataFrame({"t": [name]})).mark_text(fontSize=20, color="#555555", opacity=.95, font=FONT).encode(
        x=alt.value(w / 2), y=alt.value(h / 2), text="t:N"))
    if frame:
        layers.append(alt.Chart(pd.DataFrame({"a": [0]})).mark_rect(fill="transparent", stroke=frame, strokeOpacity=.5, strokeWidth=3.4).encode(
            x=alt.value(0), x2=alt.value(w), y=alt.value(0), y2=alt.value(h)))
    return alt.layer(*layers).properties(width=w, height=h)

LW, LH = 336, 136.7
left = alt.vconcat(
    panel(M1, M1_DIR, LW, LH, [-4.98, 73.5], [1.5425, 2.2164], [(5, "2022"), (29, "2024"), (53, "2026")], [1.6, 1.8, 2, 2.2], "GBPAUD 1mn", 2.6, 1, 1.2,
          levels=M1_LEVELS, rects=M1_RECTS, dots=M1_DOTS, status=M1_STATUS, status_y=1.573),
    panel(W1, W1_DIR, LW, LH, [-4.98, 73.5], [1.8327, 2.117], [(3.3, "Jul 2025"), (29.5, "Jan 2026"), (55.4, "Jul 2026")], [1.9, 2, 2.1], "GBPAUD 1w", 2.6, 1, 1.2,
          levels=W1_LEVELS, rects=W1_RECTS, dots=W1_DOTS, status=W1_STATUS, status_y=1.845),
    panel(D1, D1_DIR, LW, LH, [-6.4, 95.4], [1.8466, 1.9477], [(14.3, "Jun 2026"), (36.4, "Jul 2026"), (59.2, "Aug 2026"), (88.6, "Sep 2026")], [1.85, 1.9], "GBPAUD 1d", 2.1, 1, 1.2,
          levels=D1_LEVELS, rects=D1_RECTS, dots=D1_DOTS),
    panel(H4, H4_DIR, LW, LH, [-4.98, 73.5], [1.90431, 1.92765], [(11.07, "Aug 2\n2026"), (41, "Aug 9")], [1.905, 1.91, 1.915, 1.92, 1.925], "GBPAUD 4h", 2.6, 1, 1.2,
          levels=H4_LEVELS, rects=H4_RECTS, dots=H4_DOTS, status=H4_STATUS, status_y=1.90542),
    panel(H1, H1_DIR, LW, LH, [-4.98, 73.5], [1.90686, 1.91993], [(13, "Aug 11\n2026"), (37, "Aug 12"), (61, "Aug 13")], [1.91, 1.915], "GBPAUD 1h", 2.6, 1, 1.2,
          levels=H1_LEVELS, rects=H1_RECTS, dots=H1_DOTS, status=H1_STATUS, status_y=1.90745),
    spacing=54.15, bounds="flush")

middle = alt.vconcat(
    panel(M15, M15_DIR, 1114, 327, [-12.83, 115.95], [1.9074, 1.91528],
          [(7, "00:00\nAug 12, 2026"), (31, "06:00"), (55, "12:00"), (79, "18:00"), (103, "00:00\nAug 13, 2026")],
          [1.908, 1.909, 1.91, 1.911, 1.912, 1.913, 1.914, 1.915], "GBPAUD 15m", 4.6, 1.5, 1.6,
          levels=M15_LEVELS, under=M15_UNDER, dots=M15_DOTS, status=M15_STATUS, status_y=1.90763, bar=7,
          notes=M15_NOTES, leaders=M15_LEADERS, frame="#0000ff"),
    panel(M5, M5_DIR, 1114, 518, [-9.66, 136.9], [1.90786, 1.91641],
          [(11, "14:00\nAug 12, 2026"), (35, "16:00"), (57, "18:00"), (81, "20:00"), (105, "22:00"), (129, "00:00\nAug 13, 2026")],
          [1.908, 1.909, 1.91, 1.911, 1.912, 1.913, 1.914, 1.915, 1.916], "GBPAUD 5m", 3.8, 1.3, 1.4,
          levels=M5_LEVELS, under=M5_UNDER, rects=M5_RECTS, dots=M5_DOTS, status=M5_STATUS_HIGH, status_y=1.91,
          status2=M5_STATUS_LOW, status2_y=1.90893, bar=7, notes=M5_NOTES, leaders=M5_LEADERS, frame="#ff0000"),
    spacing=55, bounds="flush")

report = pd.DataFrame({"row": range(len(REPORT)), "t": REPORT})
text_col = alt.Chart(report).mark_text(align="left", baseline="middle", fontSize=9.5, color="#222222", font=FONT).encode(
    x=alt.value(0), y=alt.Y("row:Q", scale=alt.Scale(domain=[0, 48], range=[-10.7, 581.6], nice=False, padding=0), axis=None),
    text="t:N").properties(width=300, height=592.3)

chart = alt.hconcat(left, middle, text_col, spacing=3.5).properties(
    title=alt.TitleParams(TITLE, anchor="start", fontSize=17, fontWeight="bold", color="#222222", font=FONT, dx=58.5, offset=30),
    padding={"left": 29.5, "top": 27.7, "right": 5, "bottom": 5},
).configure_view(stroke=None).configure_axis(
    labelFont=FONT, labelFontSize=12, labelColor="#2a2a2a", domainColor="#333333", tickColor="#333333", domainWidth=1.5, tickWidth=1, tickSize=5, labelLineHeight=16
)
chart.save("out.html", embed_options={"renderer": "svg", "actions": False})
